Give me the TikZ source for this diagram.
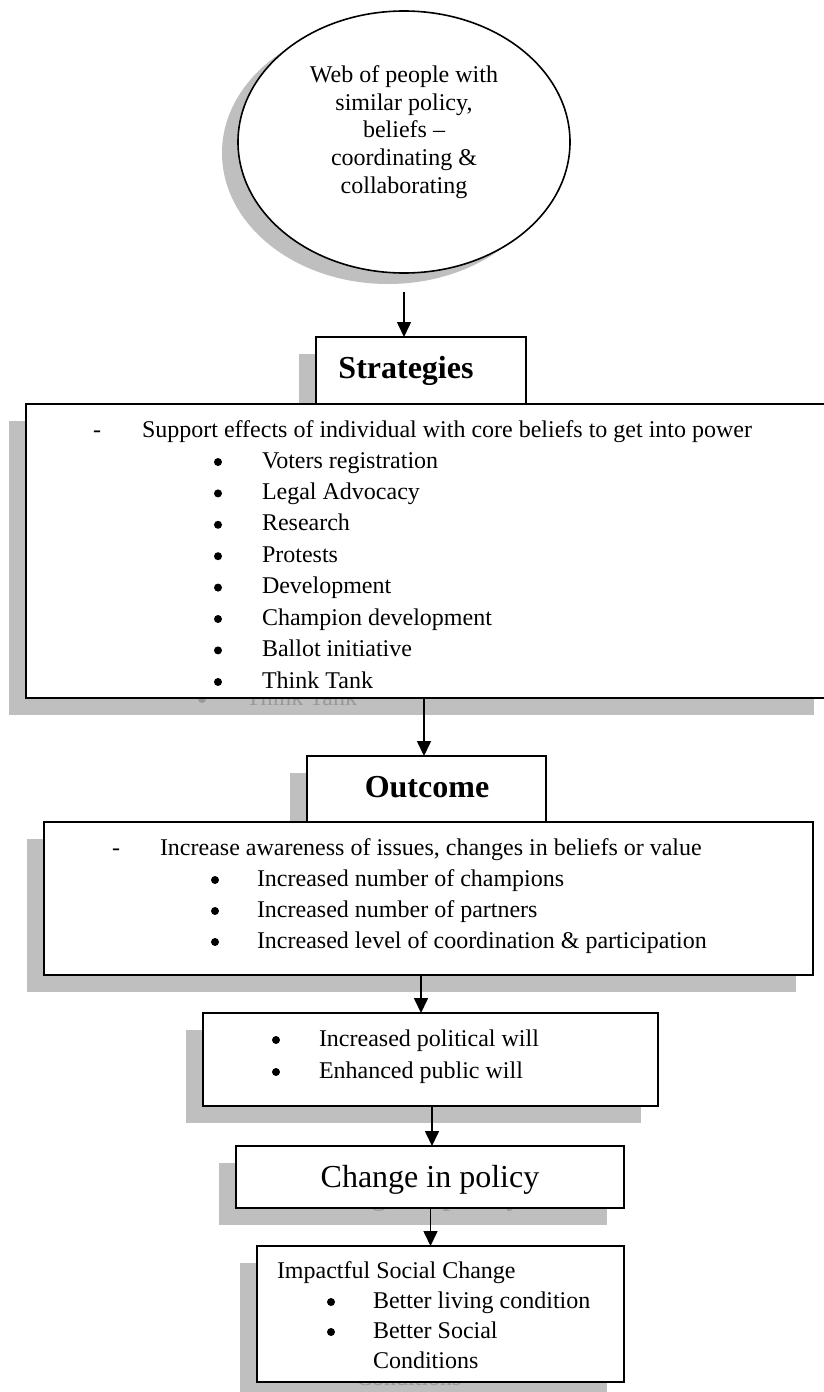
\documentclass[tikz,border=0pt]{standalone}
\usepackage{fontspec}
\setmainfont{Liberation Serif}
\usetikzlibrary{arrows.meta,shapes.geometric}
\definecolor{shadowgray}{HTML}{BFBFBF}
\definecolor{ghostgray}{HTML}{9A9A9A}
\begin{document}
\begin{tikzpicture}[x=1pt,y=-1pt,
  bx/.style={draw=black, line width=1.6pt, fill=white, inner sep=0pt, outer sep=0pt, anchor=north west},
  sh/.style={fill=shadowgray, draw=none, inner sep=0pt, outer sep=0pt, anchor=north west},
  txt/.style={inner sep=0pt, outer sep=0pt, anchor=base west, font=\fontsize{24}{28}\selectfont},
  ctxt/.style={txt, anchor=base},
  ttl/.style={inner sep=0pt, outer sep=0pt, anchor=base, font=\fontsize{32}{38}\selectfont\bfseries},
  big/.style={inner sep=0pt, outer sep=0pt, anchor=base, font=\fontsize{32}{38}\selectfont},
  ghost/.style={text=ghostgray},
  dot/.style={circle, fill=black, inner sep=0pt, outer sep=0pt, minimum size=8pt},
  gdot/.style={circle, fill=ghostgray, inner sep=0pt, outer sep=0pt, minimum size=8pt},
  arr/.style={line width=1.6pt, -{Triangle[width=14pt,length=15pt]}}]
\useasboundingbox (0,0) rectangle (824,1392);
\fill[white] (0,0) rectangle (824,1392);

% ---------- shadows ----------
\node[ellipse, fill=shadowgray, inner sep=0pt, outer sep=0pt, minimum width=332pt, minimum height=262pt] (webS) at (388,153) {};
\node[sh, minimum width=210pt, minimum height=67pt] (sttlS) at (299,354) {};
\node[sh, minimum width=805pt, minimum height=294pt] (stratS) at (9,421) {};
\node[sh, minimum width=239pt, minimum height=66pt] (outtlS) at (290,773) {};
\node[sh, minimum width=769pt, minimum height=153pt] (outcS) at (27,839) {};
\node[sh, minimum width=455pt, minimum height=93pt] (willS) at (186,1030) {};
\node[sh, minimum width=388pt, minimum height=62pt] (chgS) at (219,1163) {};
\node[sh, minimum width=367pt, minimum height=136pt] (impS) at (240,1263) {};

% ---------- ghost texts showing in shadows ----------
\node[gdot] (gb8) at (202,699) {};
\node[txt, ghost] (gt8) at (246,705) {Think Tank};
\node[big, ghost] (gchg) at (413,1204) {Change in policy};
\node[txt, ghost] (gcond) at (356,1385) {Conditions};

% ---------- boxes ----------
\node[ellipse, draw=black, line width=1.6pt, fill=white, inner sep=0pt, outer sep=0pt, minimum width=332pt, minimum height=262pt] (web) at (404,142) {};
\node[bx, minimum width=210pt, minimum height=67pt] (sttl) at (316,337) {};
\node[bx, minimum width=805pt, minimum height=294pt] (strat) at (26,404) {};
\node[bx, minimum width=239pt, minimum height=66pt] (outtl) at (307,756) {};
\node[bx, minimum width=769pt, minimum height=153pt] (outc) at (44,822) {};
\node[bx, minimum width=455pt, minimum height=93pt] (will) at (203,1013) {};
\node[bx, minimum width=388pt, minimum height=62pt] (chg) at (236,1146) {};
\node[bx, minimum width=367pt, minimum height=136pt] (imp) at (257,1246) {};

% ---------- connectors ----------
\draw[arr] ([yshift=-19pt]web.south) -- (web.south |- sttl.north);
\draw[arr] ([xshift=-2.5pt]outtl.north |- strat.south) -- ([xshift=-2.5pt]outtl.north);
\draw[arr] ([xshift=-9.5pt]will.north |- outc.south) -- ([xshift=-9.5pt]will.north);
\draw[arr] ([xshift=2pt]chg.north |- will.south) -- ([xshift=2pt]chg.north);
\draw[arr] ([xshift=-10pt]imp.north |- chg.south) -- ([xshift=-10pt]imp.north);

% ---------- ellipse text ----------
\node[ctxt] (w1) at (404,82) {Web of people with};
\node[ctxt] (w2) at (404,110) {similar policy,};
\node[ctxt] (w3) at (404,137) {beliefs –};
\node[ctxt] (w4) at (404,165) {coordinating \&};
\node[ctxt] (w5) at (404,193) {collaborating};

% ---------- strategies ----------
\node[ttl] (sttltext) at (406,378) {Strategies};
\node[ctxt] (sdash) at (97,437) {-};
\node[txt] (shead) at (142,437) {Support effects of individual with core beliefs to get into power};
\node[dot] (sb1) at (218,462) {};
\node[txt] (st1) at (262,468) {Voters registration};
\node[dot] (sb2) at (218,493.4) {};
\node[txt] (st2) at (262,499.4) {Legal Advocacy};
\node[dot] (sb3) at (218,524.8) {};
\node[txt] (st3) at (262,530.8) {Research};
\node[dot] (sb4) at (218,556.2) {};
\node[txt] (st4) at (262,562.2) {Protests};
\node[dot] (sb5) at (218,587.6) {};
\node[txt] (st5) at (262,593.6) {Development};
\node[dot] (sb6) at (218,619) {};
\node[txt] (st6) at (262,625) {Champion development};
\node[dot] (sb7) at (218,650.4) {};
\node[txt] (st7) at (262,656.4) {Ballot initiative};
\node[dot] (sb8) at (218,682) {};
\node[txt] (st8) at (262,688) {Think Tank};

% ---------- outcome ----------
\node[ttl] (outtltext) at (427,797) {Outcome};
\node[ctxt] (odash) at (116,855) {-};
\node[txt] (ohead) at (160,855) {Increase awareness of issues, changes in beliefs or value};
\node[dot] (ob1) at (215,880) {};
\node[txt] (ot1) at (257,886) {Increased number of champions};
\node[dot] (ob2) at (215,911) {};
\node[txt] (ot2) at (257,917) {Increased number of partners};
\node[dot] (ob3) at (215,942) {};
\node[txt] (ot3) at (257,948) {Increased level of coordination \& participation};

% ---------- will ----------
\node[dot] (wb1) at (276,1040) {};
\node[txt] (wt1) at (319,1046) {Increased political will};
\node[dot] (wb2) at (276,1072) {};
\node[txt] (wt2) at (319,1078) {Enhanced public will};

% ---------- change ----------
\node[big] (chgtext) at (430,1187) {Change in policy};

% ---------- impact ----------
\node[txt] (ihead) at (277,1278) {Impactful Social Change};
\node[dot] (ib1) at (331,1302) {};
\node[txt] (it1) at (373,1308) {Better living condition};
\node[dot] (ib2) at (331,1332) {};
\node[txt] (it2) at (373,1338) {Better Social};
\node[txt] (it3) at (373,1368) {Conditions};
\end{tikzpicture}
\end{document}
